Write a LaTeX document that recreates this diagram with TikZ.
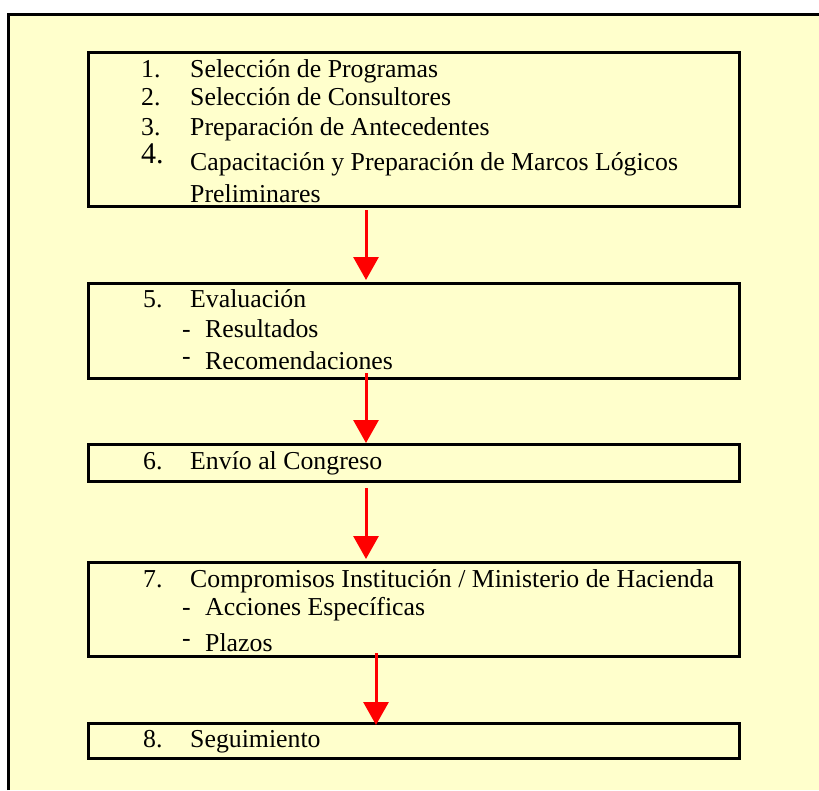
\documentclass[tikz,border=0pt]{standalone}
\usepackage{fontspec}
\setmainfont{Liberation Serif}
\usetikzlibrary{arrows.meta}
\definecolor{bgyellow}{HTML}{FFFFCC}
\begin{document}
\begin{tikzpicture}[x=1pt,y=-1pt,
  box/.style={draw=black,line width=3pt,minimum width=651pt,inner sep=0pt,outer sep=0pt},
  txt/.style={anchor=base west,inner sep=0pt,font=\fontsize{25.8pt}{30pt}\selectfont},
  bignum/.style={anchor=base west,inner sep=0pt,font=\fontsize{30pt}{34pt}\selectfont},
  arr/.style={draw=red,line width=3pt,-{Triangle[width=25pt,length=23pt]}}]
\useasboundingbox (0,0) rectangle (819,790);
\fill[bgyellow] (8.5,14.5) rectangle (819,790);
\draw[line width=2.6pt] (8.5,790) -- (8.5,14.5) -- (819,14.5);

% boxes
\node[box,minimum height=154pt] (b1) at (413.5,129) {};
\node[box,minimum height=95pt]  (b2) at (413.5,330.5) {};
\node[box,minimum height=37pt]  (b3) at (413.5,462.5) {};
\node[box,minimum height=94pt]  (b4) at (413.5,609) {};
\node[box,minimum height=35pt]  (b5) at (413.5,740.5) {};

% box 1 texts
\node[txt] (n1) at (141,77) {1.};
\node[txt] (t1) at (190,77) {Selección de Programas};
\node[txt] (n2) at (141,105) {2.};
\node[txt] (t2) at (190,105) {Selección de Consultores};
\node[txt] (n3) at (141,135) {3.};
\node[txt] (t3) at (190,135) {Preparación de Antecedentes};
\node[bignum] (n4) at (141,163) {4.};
\node[txt] (t4) at (190,170) {Capacitación y Preparación de Marcos Lógicos};
\node[txt] (t4b) at (190,202) {Preliminares};

% box 2 texts
\node[txt] (n5) at (143,307) {5.};
\node[txt] (t5) at (190,307) {Evaluación};
\node[txt] (d5a) at (182,337) {-};
\node[txt] (t5a) at (205,337) {Resultados};
\node[txt] (d5b) at (182,364) {-};
\node[txt] (t5b) at (205,369) {Recomendaciones};

% box 3 texts
\node[txt] (n6) at (143,469) {6.};
\node[txt] (t6) at (190,469) {Envío al Congreso};

% box 4 texts
\node[txt] (n7) at (143,587) {7.};
\node[txt] (t7) at (190,587) {Compromisos Institución / Ministerio de Hacienda};
\node[txt] (d7a) at (182,615) {-};
\node[txt] (t7a) at (205,615) {Acciones Específicas};
\node[txt] (d7b) at (182,646) {-};
\node[txt] (t7b) at (205,651) {Plazos};

% box 5 texts
\node[txt] (n8) at (143,747) {8.};
\node[txt] (t8) at (190,747) {Seguimiento};

% arrows
\coordinate (ax) at (366,0);
\coordinate (bx) at (376,0);
\draw[arr,shorten >=3pt] ([yshift=-4pt]b1.south -| ax) -- (b2.north -| ax);
\draw[arr,shorten >=1pt] ([yshift=5pt]b2.south -| ax) -- (b3.north -| ax);
\draw[arr,shorten >=3pt] ([yshift=-7pt]b3.south -| ax) -- (b4.north -| ax);
\draw[arr,shorten >=-2pt] ([yshift=3pt]b4.south -| bx) -- (b5.north -| bx);
\end{tikzpicture}
\end{document}
